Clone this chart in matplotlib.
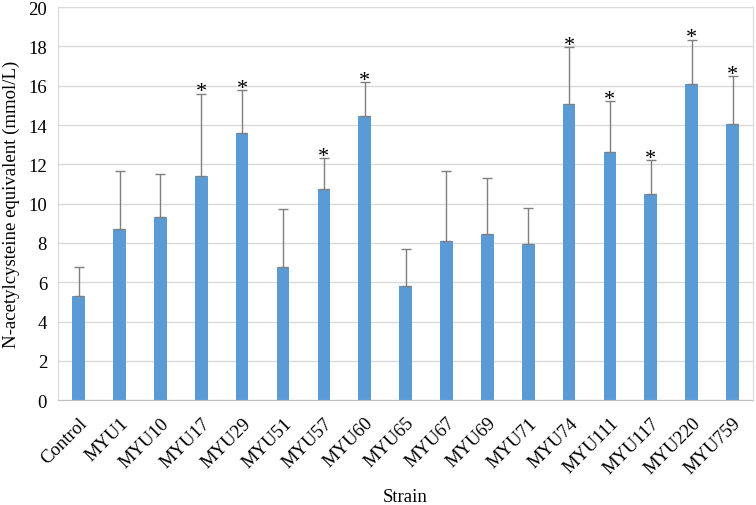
import numpy as np
import matplotlib.pyplot as plt

# strains and measured values (mean, upper error bar top)
strains = ["Control", "MYU1", "MYU10", "MYU17", "MYU29", "MYU51", "MYU57", "MYU60",
           "MYU65", "MYU67", "MYU69", "MYU71", "MYU74", "MYU111", "MYU117", "MYU220", "MYU759"]
means = [5.3, 8.7, 9.3, 11.4, 13.6, 6.8, 10.75, 14.45, 5.8, 8.1, 8.45, 7.95, 15.05, 12.65, 10.5, 16.1, 14.05]
err_top = [6.8, 11.65, 11.5, 15.6, 15.8, 9.75, 12.3, 16.2, 7.7, 11.65, 11.3, 9.8, 17.95, 15.2, 12.2, 18.35, 16.5]
signif = [0, 0, 0, 1, 1, 0, 1, 1, 0, 0, 0, 0, 1, 1, 1, 1, 1]

plt.rcParams['font.family'] = ['Liberation Serif', 'DejaVu Serif']

means = np.array(means)
errs = np.array(err_top) - means
x = np.arange(len(strains))

fig, ax = plt.subplots(figsize=(7.56, 5.06), dpi=100)
fig.subplots_adjust(left=0.077, right=0.996, top=0.984, bottom=0.207)

ax.bar(x, means, width=0.31, color="#5B9BD5", zorder=2)
ax.errorbar(x, means, yerr=[np.zeros_like(errs), errs], fmt="none",
            ecolor="#7f7f7f", elinewidth=1, capsize=3.5, capthick=1, zorder=3)

for xi, top, s in zip(x, err_top, signif):
    if s:
        ax.text(xi, top - 0.4, "*", ha="center", va="bottom", fontsize=16)

ax.set_ylim(0, 20)
ax.set_xlim(-0.5, len(strains) - 0.5)
ax.set_yticks(np.arange(0, 21, 2))
ax.set_xticks(x)
ax.set_xticklabels(strains, rotation=45, ha="right", rotation_mode="anchor")
ax.tick_params(axis="both", length=0, labelsize=13.5)
ax.tick_params(axis="y", pad=8)
ax.tick_params(axis="x", pad=10)
ax.yaxis.grid(True, color="#d9d9d9", linewidth=1, zorder=0)
ax.set_axisbelow(True)
for sp in ax.spines.values():
    sp.set_color("#d9d9d9")
ax.spines["bottom"].set_color("#bfbfbf")

ax.set_ylabel("N-acetylcysteine equivalent (mmol/L)", fontsize=13.5, labelpad=6)
ax.set_xlabel("Strain", fontsize=13.5, labelpad=8)

fig.savefig("out.png", dpi=100)
